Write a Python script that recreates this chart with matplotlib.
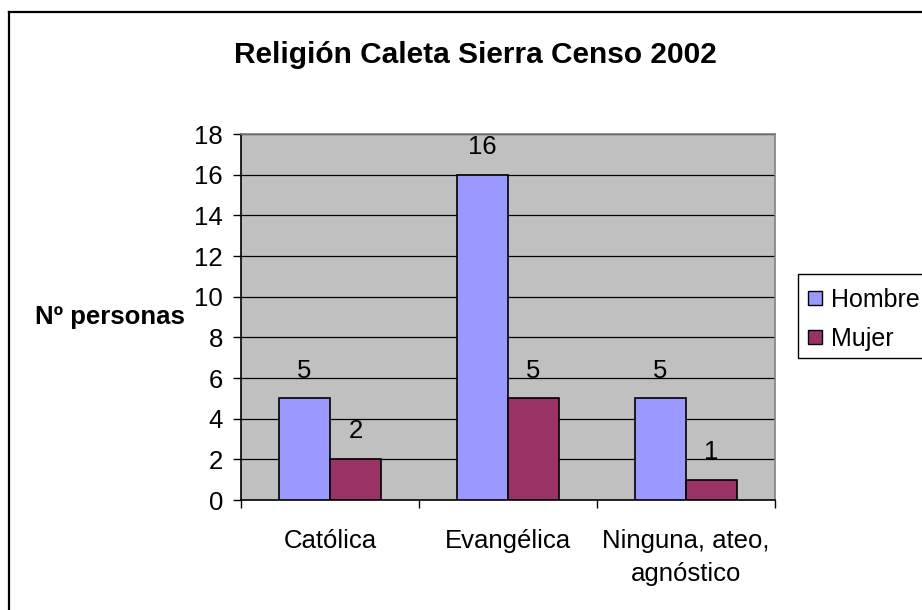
import matplotlib
matplotlib.use("Agg")
import matplotlib.pyplot as plt
from matplotlib.patches import Rectangle
import numpy as np

plt.rcParams['font.family'] = ['Liberation Sans', 'DejaVu Sans']

categories = ["Católica", "Evangélica", "Ninguna, ateo,\nagnóstico"]
series_names = ["Hombre", "Mujer"]
hombre = [5, 16, 5]
mujer = [2, 5, 1]
colors = ["#9999FF", "#993366"]
y_ticks = [0, 2, 4, 6, 8, 10, 12, 14, 16, 18]

W, H = 922, 610
FS = 18.5
fig = plt.figure(figsize=(W / 100, H / 100), dpi=100)
fig.patch.set_facecolor("white")


def fx(px):
    return px / W


def fy(py):
    return 1 - py / H


# Chart-area border (only top and left edges fall inside the frame)
fig.add_artist(plt.Line2D([fx(8.5), fx(8.5)], [0, fy(12)], color="black", lw=1.6,
                          transform=fig.transFigure))
fig.add_artist(plt.Line2D([fx(8.5), 1], [fy(12), fy(12)], color="black", lw=1.6,
                          transform=fig.transFigure))

left, right, top, bottom = 241, 775, 134, 500
ax = fig.add_axes([fx(left), fy(bottom), (right - left) / W, (bottom - top) / H])
ax.set_facecolor("#C0C0C0")

x = np.arange(len(categories))
bw = 1 / 3.5
for i, (vals, c) in enumerate(zip([hombre, mujer], colors)):
    pos = x + (i - 0.5) * bw
    ax.bar(pos, vals, width=bw, color=c, edgecolor="black", linewidth=1.2,
           label=series_names[i], zorder=3)
    for p, v in zip(pos, vals):
        ax.annotate(str(v), (p, v), xytext=(0, 15), textcoords="offset points",
                    ha="center", va="baseline", fontsize=FS, zorder=4)

ax.set_xlim(-0.5, len(categories) - 0.5)
ax.set_ylim(0, 18)
ax.set_yticks(y_ticks)
ax.set_yticklabels([str(t) for t in y_ticks], fontsize=FS)
for t in y_ticks[1:]:
    ax.axhline(t, color="black", lw=0.9, zorder=1)

ax.set_xticks(np.arange(-0.5, len(categories), 1.0))
ax.set_xticklabels([])
ax.set_xticks(x, minor=True)
ax.set_xticklabels(categories, minor=True, fontsize=FS, linespacing=1.45)
ax.tick_params(axis="x", which="minor", length=0, pad=21)
ax.tick_params(axis="x", which="major", length=6, width=1, direction="out")
ax.tick_params(axis="y", length=6, width=1, direction="out", pad=7)

ax.spines["left"].set_linewidth(1.2)
ax.spines["bottom"].set_linewidth(1.2)
for s in ["top", "right"]:
    ax.spines[s].set_color("#808080")
    ax.spines[s].set_linewidth(1.2)

fig.text(fx(475.5), fy(63), "Religión Caleta Sierra Censo 2002", ha="center",
         va="baseline", fontsize=21.5, fontweight="bold")
fig.text(fx(35), fy(324), "Nº personas", ha="left", va="baseline",
         fontsize=FS, fontweight="bold")

# Legend box, running past the right edge of the frame
fig.add_artist(Rectangle((fx(798), fy(358)), fx(960) - fx(798), fy(274) - fy(358),
                         transform=fig.transFigure, facecolor="white",
                         edgecolor="black", lw=1.0))
for k, (name, c) in enumerate(zip(series_names, colors)):
    yc = 298 + k * 39
    fig.add_artist(Rectangle((fx(808), fy(yc + 7)), 14 / W, 14 / H,
                             transform=fig.transFigure, facecolor=c,
                             edgecolor="black", lw=1.0))
    fig.text(fx(831), fy(yc + 9), name, ha="left", va="baseline", fontsize=18)

fig.savefig("out.png", dpi=100, facecolor="white")
